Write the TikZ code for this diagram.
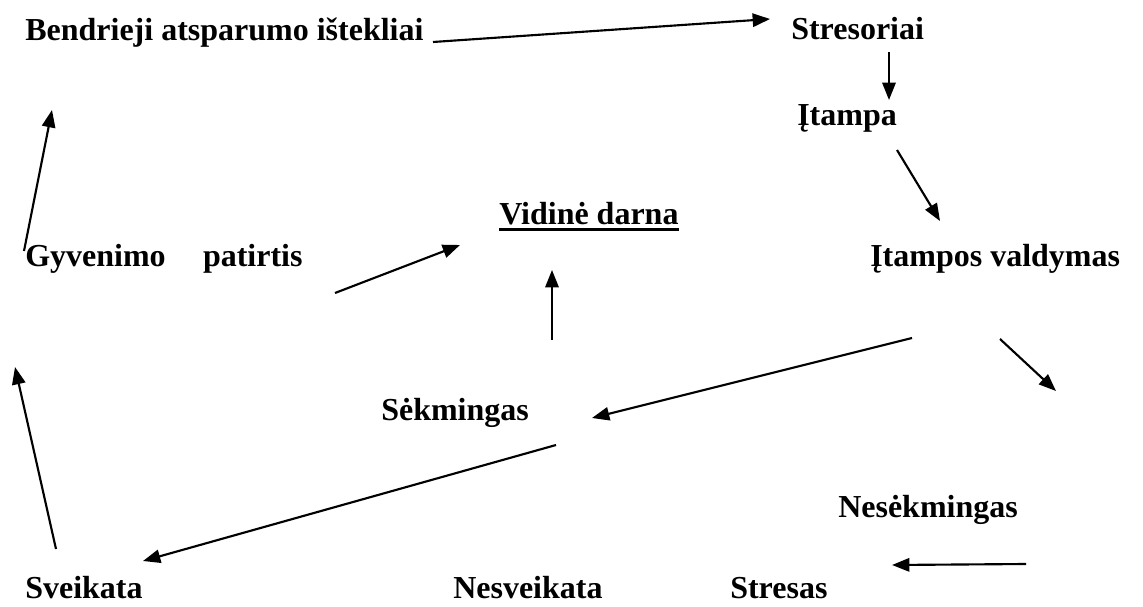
\documentclass[tikz,border=0pt]{standalone}
\usepackage{fontspec}
\setmainfont{Liberation Serif}
\usetikzlibrary{arrows.meta}
\begin{document}
\begin{tikzpicture}[x=0.75pt,y=-0.75pt,
  lbl/.style={anchor=base west,inner sep=0pt,font=\fontsize{24}{28}\selectfont\bfseries},
  conn/.style={line width=1.6pt,-{Triangle[length=13pt,width=10pt]}}]
\useasboundingbox (0,0) rectangle (1143,607);
% labels
\node[lbl] (ben) at (25,40) {Bendrieji atsparumo ištekliai};
\node[lbl] (str) at (791,39) {Stresoriai};
\node[lbl] (ita) at (797,125) {Įtampa};
\node[lbl] (vid) at (499,224) {Vidinė darna};
\node[lbl] (gyv) at (25,266) {Gyvenimo\hspace{28pt}patirtis};
\node[lbl] (val) at (870,266) {Įtampos valdymas};
\node[lbl] (sek) at (381,420) {Sėkmingas};
\node[lbl] (nes) at (838,517) {Nesėkmingas};
\node[lbl] (sve) at (25,598) {Sveikata};
\node[lbl] (nsv) at (453,598) {Nesveikata};
\node[lbl] (sts) at (730,598) {Stresas};
\draw[line width=1.8pt] ([yshift=-4pt]vid.base west) -- ([yshift=-4pt]vid.base east);
% connector end points
\coordinate (a1s) at (433,42);  \coordinate (a1e) at (770,19);
\coordinate (a2s) at (889,52);  \coordinate (a2e) at (889,100);
\coordinate (a3s) at (897,150); \coordinate (a3e) at (940,221);
\coordinate (a4s) at (335,293); \coordinate (a4e) at (460,245);
\coordinate (a5s) at (552,340); \coordinate (a5e) at (552,270);
\coordinate (a6s) at (912,338); \coordinate (a6e) at (592,418);
\coordinate (a7s) at (1000,339);\coordinate (a7e) at (1056,391);
\coordinate (a8s) at (556,445); \coordinate (a8e) at (143,561);
\coordinate (a9s) at (1026,564);\coordinate (a9e) at (892,565);
\coordinate (a10s) at (56,549); \coordinate (a10e) at (15,367);
\coordinate (a11s) at (24,251); \coordinate (a11e) at (52,110);
% connectors
\draw[conn] (a1s) -- (a1e);
\draw[conn] (a2s) -- (a2e);
\draw[conn] (a3s) -- (a3e);
\draw[conn] (a4s) -- (a4e);
\draw[conn] (a5s) -- (a5e);
\draw[conn] (a6s) -- (a6e);
\draw[conn] (a7s) -- (a7e);
\draw[conn] (a8s) -- (a8e);
\draw[conn] (a9s) -- (a9e);
\draw[conn] (a10s) -- (a10e);
\draw[conn] (a11s) -- (a11e);
\end{tikzpicture}
\end{document}
